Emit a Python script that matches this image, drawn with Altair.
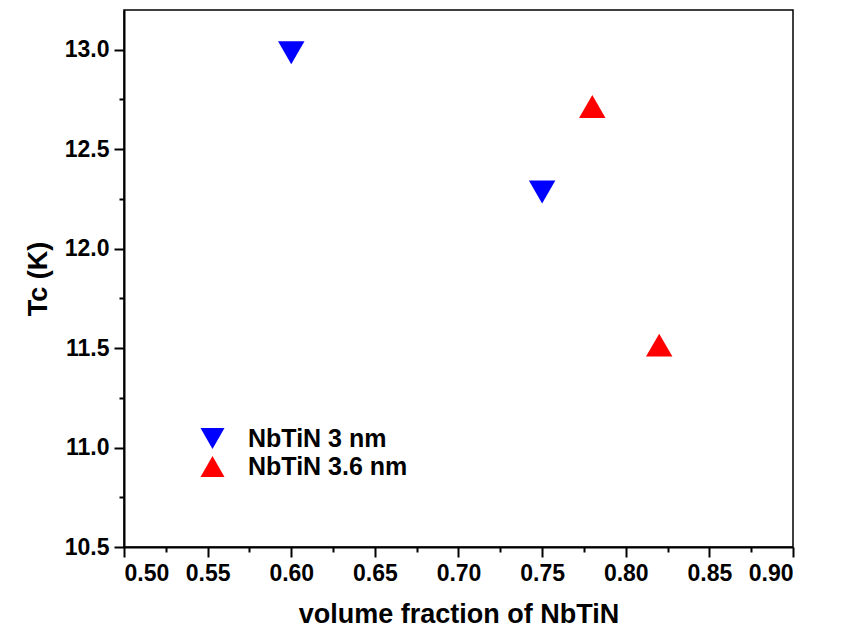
import altair as alt
import pandas as pd

series = ["NbTiN 3 nm", "NbTiN 3 nm", "NbTiN 3.6 nm", "NbTiN 3.6 nm"]
volume_fraction = [0.60, 0.75, 0.78, 0.82]
tc_values = [12.985, 12.285, 12.715, 11.515]

x_major = [0.50, 0.55, 0.60, 0.65, 0.70, 0.75, 0.80, 0.85, 0.90]
x_minor = [0.525, 0.575, 0.625, 0.675, 0.725, 0.775, 0.825, 0.875]
y_major = [10.5, 11.0, 11.5, 12.0, 12.5, 13.0]
y_minor = [10.75, 11.25, 11.75, 12.25, 12.75]

series_order = ["NbTiN 3 nm", "NbTiN 3.6 nm"]
series_colors = ["#0000FF", "#FF0000"]
series_shapes = ["triangle-down", "triangle-up"]

df = pd.DataFrame({"series": series, "x": volume_fraction, "y": tc_values})

FONT = "Liberation Sans"
x_scale = alt.Scale(domain=[0.50, 0.90], nice=False, zero=False)
y_scale = alt.Scale(domain=[10.5, 13.2], nice=False, zero=False)

legend = alt.Legend(title=None, orient="none", legendX=76, legendY=416,
                    labelFontSize=25, symbolSize=576, labelOffset=23,
                    rowPadding=2, symbolStrokeWidth=0, labelFont=FONT,
                    labelFontWeight="bold", labelColor="black")

points = alt.Chart(df).mark_point(filled=True, size=700, opacity=1).encode(
    x=alt.X("x:Q", scale=x_scale,
            axis=alt.Axis(values=x_major, format=".2f", title="volume fraction of NbTiN",
                          orient="bottom", tickSize=10, labelPadding=5, titlePadding=16,
                          labelFontSize=23, titleFontSize=27, grid=False,
                          labelFont=FONT, labelFontWeight="bold",
                          titleFont=FONT, titleFontWeight="bold")),
    y=alt.Y("y:Q", scale=y_scale,
            axis=alt.Axis(values=y_major, format=".1f", title="Tc (K)",
                          orient="left", tickSize=10, labelPadding=5, titlePadding=12,
                          labelFontSize=23, titleFontSize=27, grid=False,
                          labelFont=FONT, labelFontWeight="bold",
                          titleFont=FONT, titleFontWeight="bold")),
    color=alt.Color("series:N", scale=alt.Scale(domain=series_order, range=series_colors),
                    legend=legend),
    shape=alt.Shape("series:N", scale=alt.Scale(domain=series_order, range=series_shapes),
                    legend=legend),
)

minor = alt.Chart(df).mark_point(opacity=0).encode(
    x=alt.X("x:Q", scale=x_scale,
            axis=alt.Axis(values=x_minor, labels=False, title=None, domain=False,
                          orient="bottom", tickSize=5, grid=False)),
    y=alt.Y("y:Q", scale=y_scale,
            axis=alt.Axis(values=y_minor, labels=False, title=None, domain=False,
                          orient="left", tickSize=5, grid=False)),
)

chart = alt.layer(points, minor).resolve_axis(x="independent", y="independent").properties(
    width=669, height=537,
    autosize=alt.AutoSizeParams(type="none"),
    padding={"left": 124, "top": 10, "right": 48, "bottom": 81},
).configure_view(
    stroke="black", strokeWidth=1.5
).configure_axis(
    labelColor="black", titleColor="black", domainColor="black", tickColor="black",
    domainWidth=2, tickWidth=2
)

chart.save("out.html", embed_options={"renderer": "svg", "actions": False})
